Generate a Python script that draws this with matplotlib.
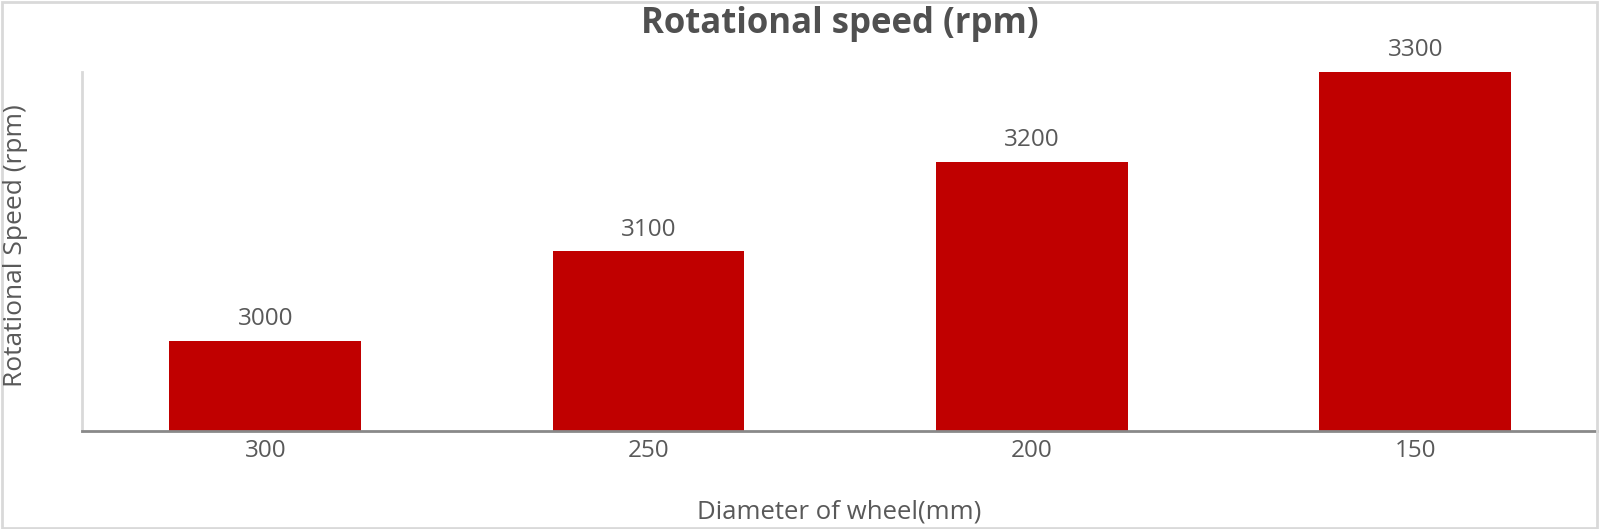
import matplotlib.pyplot as plt
from matplotlib.patches import Rectangle

# Data
diameters = ["300", "250", "200", "150"]
speeds = [3000, 3100, 3200, 3300]

plt.rcParams['font.family'] = ['Open Sans', 'DejaVu Sans']

fig = plt.figure(figsize=(16, 5.29), dpi=100)
ax = fig.add_axes([0.0513, 0.1858, 0.9468, 0.6781])

x = range(len(diameters))
bars = ax.bar(x, speeds, width=0.5, color="#C00000", zorder=2)

ax.set_xlim(-0.478, 3.474)
ax.set_ylim(2900, 3300)

# Data labels above each bar
for rect, val in zip(bars, speeds):
    ax.annotate(f"{val}", (rect.get_x() + rect.get_width() / 2, val),
                xytext=(0, 7), textcoords="offset points",
                ha="center", va="bottom", fontsize=17.5, color="#595959")

ax.set_xticks(list(x))
ax.set_xticklabels(diameters, fontsize=17.5, color="#595959")
ax.tick_params(axis="x", length=0, pad=6)
ax.set_yticks([])

for s in ["top", "right"]:
    ax.spines[s].set_visible(False)
ax.spines["left"].set_color("#d9d9d9")
ax.spines["left"].set_linewidth(2)
ax.spines["bottom"].set_color("#898989")
ax.spines["bottom"].set_linewidth(2)

ax.set_title("Rotational speed (rpm)", fontsize=25, fontweight="bold",
             color="#505050", pad=28)
ax.set_xlabel("Diameter of wheel(mm)", fontsize=18.5, color="#595959", labelpad=26)
fig.text(0.002, 0.535, "Rotational Speed (rpm)", rotation=90, fontsize=19,
         color="#595959", ha="left", va="center")

# light border round the whole chart
fig.patches.append(Rectangle((0.001, 0.002), 0.997, 0.995, transform=fig.transFigure,
                             fill=False, edgecolor="#d9d9d9", linewidth=2))

fig.savefig("out.png", dpi=100, facecolor="white")
